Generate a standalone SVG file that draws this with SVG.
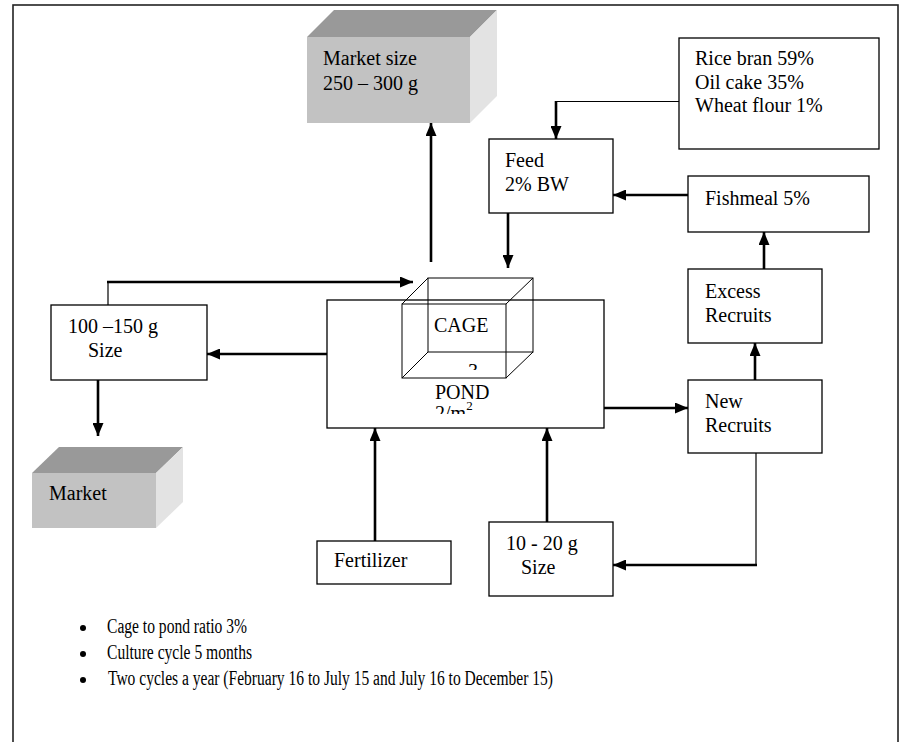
<svg xmlns="http://www.w3.org/2000/svg" width="901" height="742" viewBox="0 0 901 742">
<style>
text{font-family:"Liberation Serif","Times New Roman",serif;font-size:20px;fill:#000}
.box{fill:#fff;stroke:#000;stroke-width:1.3}
.thick{fill:none;stroke:#000;stroke-width:2.6}
.thin{fill:none;stroke:#000;stroke-width:1.2}
.wire{fill:none;stroke:#000;stroke-width:1}
.top{fill:#999}
.front{fill:#c2c2c2}
.side{fill:#e3e3e3}
</style>
<defs>
<marker id="ah" markerWidth="13" markerHeight="11" refX="13" refY="5.5" orient="auto" markerUnits="userSpaceOnUse">
<path d="M0,0 L13,5.5 L0,11 Z" fill="#000"/>
</marker>
<clipPath id="pondclip"><rect x="327" y="380" width="277" height="34"/></clipPath>
<clipPath id="cageclip"><rect x="460" y="355" width="30" height="15"/></clipPath>
</defs>
<rect x="13" y="5" width="885" height="760" fill="#fff" stroke="#222" stroke-width="1.6"/>

<g id="connectors">
<path class="thick" d="M431,262 L431,123" marker-end="url(#ah)"/>
<path class="thin" d="M679,101.5 L556,101.5"/>
<path class="thick" d="M556,101 L556,139" marker-end="url(#ah)"/>
<path class="thick" d="M688,195 L613,195" marker-end="url(#ah)"/>
<path class="thick" d="M508,213 L508,268" marker-end="url(#ah)"/>
<path class="thick" d="M764,269 L764,232" marker-end="url(#ah)"/>
<path class="thick" d="M755,380 L755,343" marker-end="url(#ah)"/>
<path class="thick" d="M604,408 L688,408" marker-end="url(#ah)"/>
<path class="thin" d="M108,305 L108,282"/>
<path class="thick" d="M107,282 L413,282" marker-end="url(#ah)"/>
<path class="thick" d="M327,354 L207,354" marker-end="url(#ah)"/>
<path class="thick" d="M98,380 L98,436" marker-end="url(#ah)"/>
<path class="thick" d="M375,541 L375,428" marker-end="url(#ah)"/>
<path class="thick" d="M547,522 L547,428" marker-end="url(#ah)"/>
<path class="thin" d="M756,453 L756,565"/>
<path class="thick" d="M757,565 L613,565" marker-end="url(#ah)"/>
</g>

<g id="market-size">
<polygon class="top" points="307,37 334,10 497,10 470,37"/>
<polygon class="side" points="470,37 497,10 497,96 470,123"/>
<rect class="front" x="307" y="37" width="163" height="86"/>
<text x="323" y="65">Market size</text>
<text x="323" y="90">250 – 300 g</text>
</g>

<g id="rice-bran">
<rect class="box" x="679" y="38" width="200" height="111"/>
<text x="695" y="65">Rice bran 59%</text>
<text x="695" y="89">Oil cake 35%</text>
<text x="695" y="112">Wheat flour 1%</text>
</g>

<g id="feed">
<rect class="box" x="489" y="139" width="124" height="74"/>
<text x="505" y="167">Feed</text>
<text x="505" y="191">2% BW</text>
</g>

<g id="fishmeal">
<rect class="box" x="688" y="176" width="181" height="56"/>
<text x="705" y="205">Fishmeal 5%</text>
</g>

<g id="excess-recruits">
<rect class="box" x="688" y="269" width="134" height="74"/>
<text x="705" y="298">Excess</text>
<text x="705" y="322">Recruits</text>
</g>

<g id="new-recruits">
<rect class="box" x="688" y="380" width="134" height="73"/>
<text x="705" y="408">New</text>
<text x="705" y="432">Recruits</text>
</g>

<g id="pond">
<rect class="box" x="327" y="300" width="277" height="128"/>
<text x="435" y="399">POND</text>
<g clip-path="url(#pondclip)">
<text x="435" y="420">2/m<tspan font-size="13" dy="-10">2</tspan></text>
</g>
</g>

<g id="cage">
<rect class="wire" x="428" y="278" width="105" height="74"/>
<rect class="wire" x="402" y="304" width="104" height="74"/>
<path class="wire" d="M402,304 L428,278 M506,304 L533,278 M506,378 L533,352 M402,378 L428,352"/>
<text x="434" y="332">CAGE</text>
<g clip-path="url(#cageclip)">
<text x="468" y="378" font-size="13">3</text>
</g>
</g>

<g id="size-100-150">
<rect class="box" x="51" y="305" width="156" height="75"/>
<text x="68" y="333">100 –150 g</text>
<text x="88" y="357">Size</text>
</g>

<g id="market">
<polygon class="top" points="32,473 59,447 183,447 156,473"/>
<polygon class="side" points="156,473 183,447 183,502 156,528"/>
<rect class="front" x="32" y="473" width="124" height="55"/>
<text x="49" y="500">Market</text>
</g>

<g id="fertilizer">
<rect class="box" x="317" y="541" width="134" height="43"/>
<text x="334" y="567">Fertilizer</text>
</g>

<g id="size-10-20">
<rect class="box" x="489" y="522" width="124" height="74"/>
<text x="506" y="550">10 - 20 g</text>
<text x="521" y="574">Size</text>
</g>

<g id="notes">
<circle cx="83" cy="628" r="3"/>
<circle cx="83" cy="654" r="3"/>
<circle cx="83" cy="680" r="3"/>
<text x="107" y="633" textLength="140" lengthAdjust="spacingAndGlyphs">Cage to pond ratio 3%</text>
<text x="107" y="659" textLength="145" lengthAdjust="spacingAndGlyphs">Culture cycle 5 months</text>
<text x="108" y="685" textLength="445" lengthAdjust="spacingAndGlyphs">Two cycles a year (February 16 to July 15 and July 16 to December 15)</text>
</g>
</svg>
